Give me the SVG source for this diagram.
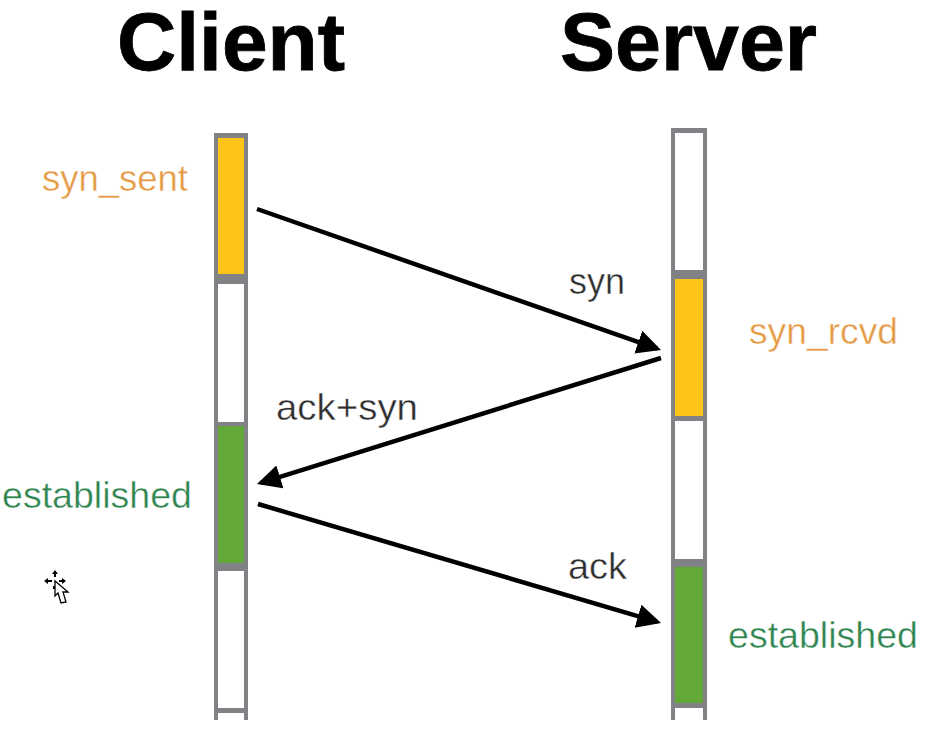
<svg xmlns="http://www.w3.org/2000/svg" width="941" height="730" viewBox="0 0 941 730">
  <style>
    text { font-family: "Liberation Sans", Arial, sans-serif; }
    .title { font-size: 82px; font-weight: 700; fill: #000; stroke: #000; stroke-width: 0.8; }
    .msg { font-size: 36px; fill: #2e2e2e; stroke: #fff; stroke-width: 0.4; }
    .state { font-size: 37px; stroke: #fff; stroke-width: 0.4; }
    .amber { fill: #e59a45; }
    .leaf { fill: #2f8550; }
    .wire { fill: none; stroke: #000; stroke-width: 4.5; }
    .rail { fill: #808285; }
    .slot { fill: #fff; }
    .yellow { fill: #fcc419; }
    .green { fill: #62a93a; }
  </style>
  <defs>
    <marker id="head" markerUnits="userSpaceOnUse" markerWidth="28" markerHeight="26" refX="20" refY="12" orient="auto">
      <path d="M0 0 L24 12 L0 24 Z" fill="#000"/>
    </marker>
  </defs>
  <rect width="941" height="730" fill="#fff"/>

  <g id="client-title"><text class="title" x="117" y="70" textLength="228" lengthAdjust="spacingAndGlyphs">Client</text></g>
  <g id="server-title"><text class="title" x="560" y="70" textLength="257" lengthAdjust="spacingAndGlyphs">Server</text></g>

  <g id="client-timeline">
    <rect class="rail" x="214" y="133" width="34" height="587"/>
    <rect class="yellow" x="218" y="138" width="26" height="136"/>
    <rect class="slot" x="218" y="284" width="26" height="138"/>
    <rect class="green" x="218" y="426" width="26" height="137"/>
    <rect class="slot" x="218" y="571" width="26" height="137"/>
    <rect class="slot" x="218" y="713" width="26" height="7"/>
  </g>

  <g id="server-timeline">
    <rect class="rail" x="671" y="128" width="36" height="592"/>
    <rect class="slot" x="675" y="133" width="28" height="137"/>
    <rect class="yellow" x="675" y="279" width="28" height="137"/>
    <rect class="slot" x="675" y="421" width="28" height="138"/>
    <rect class="green" x="675" y="567" width="28" height="136"/>
    <rect class="slot" x="675" y="708" width="28" height="12"/>
  </g>

  <g id="state-syn-sent"><text class="state amber" x="42" y="191" textLength="146" lengthAdjust="spacingAndGlyphs">syn_sent</text></g>
  <g id="state-syn-rcvd"><text class="state amber" x="749" y="344" textLength="149" lengthAdjust="spacingAndGlyphs">syn_rcvd</text></g>
  <g id="state-client-established"><text class="state leaf" x="2" y="508" textLength="190" lengthAdjust="spacingAndGlyphs">established</text></g>
  <g id="state-server-established"><text class="state leaf" x="728" y="648" textLength="190" lengthAdjust="spacingAndGlyphs">established</text></g>

  <g id="connectors">
    <line class="wire" x1="257" y1="209" x2="657.2" y2="348.7" marker-end="url(#head)"/>
    <line class="wire" x1="661" y1="358" x2="260.8" y2="482.8" marker-end="url(#head)"/>
    <line class="wire" x1="258" y1="504" x2="657.2" y2="621.9" marker-end="url(#head)"/>
  </g>

  <g id="label-syn"><text class="msg" x="569" y="294" textLength="56" lengthAdjust="spacingAndGlyphs">syn</text></g>
  <g id="label-ack-syn"><text class="msg" x="276" y="420" textLength="142" lengthAdjust="spacingAndGlyphs">ack+syn</text></g>
  <g id="label-ack"><text class="msg" x="568" y="579" textLength="59" lengthAdjust="spacingAndGlyphs">ack</text></g>

  <g id="pointer">
    <path d="M55 570 L58 574 L56 574 L56 577 L54 577 L54 574 L52 574 Z M44 581 L48 578 L48 580 L52 580 L52 582 L48 582 L48 584 Z M66 581 L62 578 L62 580 L59 580 L59 582 L62 582 L62 584 Z" fill="#000"/>
    <rect x="53" y="586" width="2" height="3" fill="#000"/>
    <path d="M55 581 L55 596 L58 593 L61 603 L66 602 L63 592 L68 592 Z" fill="#fff" stroke="#000" stroke-width="1.3"/>
  </g>
</svg>
